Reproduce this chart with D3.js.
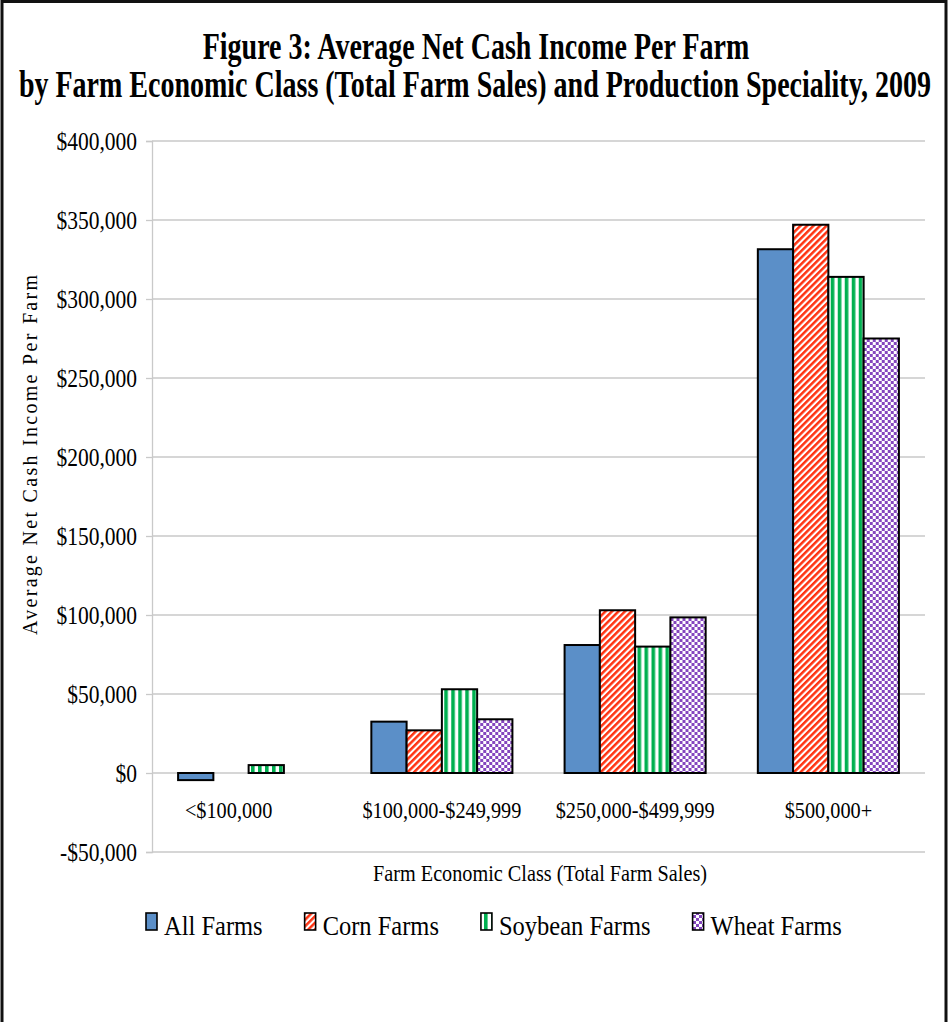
<!DOCTYPE html>
<html>
<head>
<meta charset="utf-8">
<script src="https://cdn.jsdelivr.net/npm/d3@7"></script>
<style>
  html, body { margin: 0; padding: 0; background: #fff; }
  svg { display: block; }
  text { font-family: "Liberation Serif", "Times New Roman", serif; fill: #000; }
</style>
</head>
<body>
<script>
// Farm economic classes (total farm sales)
const categories = ["<$100,000", "$100,000-$249,999", "$250,000-$499,999", "$500,000+"];
// Production specialities
const seriesNames = ["All Farms", "Corn Farms", "Soybean Farms", "Wheat Farms"];
// Average net cash income per farm, 2009 (dollars); null = not reported
const allFarms     = [-4500, 32500, 81000, 331500];
const cornFarms    = [null, 27000, 103000, 347000];
const soybeanFarms = [5000, 53000, 80000, 314000];
const wheatFarms   = [null, 34000, 98500, 275000];
const yTicks = [-50000, 0, 50000, 100000, 150000, 200000, 250000, 300000, 350000, 400000];

const seriesValues = [allFarms, cornFarms, soybeanFarms, wheatFarms];
const fills = ["#5B8FC8", "url(#corn)", "url(#soy)", "url(#wheat)"];

const W = 948, H = 1022;
const TALL = 1.13; // the serif lettering is set slightly tall and narrow
const svg = d3.select("body").append("svg").attr("width", W).attr("height", H);

// ---- fill patterns ----
const defs = svg.append("defs");
const corn = defs.append("pattern").attr("id", "corn").attr("patternUnits", "userSpaceOnUse")
  .attr("width", 4.6).attr("height", 10).attr("patternTransform", "rotate(45)");
corn.append("rect").attr("width", 4.6).attr("height", 10).attr("fill", "#fff");
corn.append("rect").attr("width", 2.5).attr("height", 10).attr("fill", "#FF3210");

const soy = defs.append("pattern").attr("id", "soy").attr("patternUnits", "userSpaceOnUse")
  .attr("width", 7).attr("height", 10).attr("x", 1);
soy.append("rect").attr("width", 7).attr("height", 10).attr("fill", "#fff");
soy.append("rect").attr("width", 3.6).attr("height", 10).attr("fill", "#00B050");

const wheat = defs.append("pattern").attr("id", "wheat").attr("patternUnits", "userSpaceOnUse")
  .attr("width", 6).attr("height", 6);
wheat.append("rect").attr("width", 6).attr("height", 6).attr("fill", "#fff");
wheat.append("rect").attr("width", 3).attr("height", 3).attr("fill", "#8446BE");
wheat.append("rect").attr("x", 3).attr("y", 3).attr("width", 3).attr("height", 3).attr("fill", "#8446BE");

// ---- outer frame ----
svg.append("rect").attr("x", 2).attr("y", 1.5).attr("width", W - 4).attr("height", H + 20)
  .attr("fill", "none").attr("stroke", "#111").attr("stroke-width", 3);

// ---- title (bold, condensed) ----
const titleLines = [
  { text: "Figure 3: Average Net Cash Income Per Farm", x: 476, y: 59 },
  { text: "by Farm Economic Class (Total Farm Sales) and Production Speciality, 2009", x: 475, y: 97 }
];
titleLines.forEach(l => {
  svg.append("text").attr("transform", `translate(${l.x},${l.y}) scale(0.757,1)`)
    .attr("text-anchor", "middle").attr("font-size", 37).attr("font-weight", "bold")
    .text(l.text);
});

// ---- scales ----
const plot = { left: 152, right: 925, top: 141, bottom: 852 };
const y = d3.scaleLinear().domain([-50000, 400000]).range([plot.bottom, plot.top]);
const x0 = d3.scaleBand().domain(categories).range([plot.left, plot.right]).padding(0);
const groupW = x0.bandwidth() * 0.73;
const x1 = d3.scaleBand().domain(seriesNames)
  .range([(x0.bandwidth() - groupW) / 2, (x0.bandwidth() + groupW) / 2]).padding(0);

// ---- gridlines ----
svg.append("g").selectAll("line").data(yTicks).join("line")
  .attr("x1", plot.left).attr("x2", plot.right)
  .attr("y1", d => y(d)).attr("y2", d => y(d))
  .attr("stroke", "#c9c9c9").attr("stroke-width", 1.3);

// ---- y axis ----
const yAxis = svg.append("g").attr("transform", `translate(${plot.left},0)`)
  .call(d3.axisLeft(y).tickValues(yTicks).tickSize(6).tickPadding(9)
    .tickFormat(d => (d < 0 ? "-$" : "$") + d3.format(",")(Math.abs(d))));
yAxis.select(".domain").attr("stroke", "#c9c9c9").attr("stroke-width", 1.3);
yAxis.selectAll(".tick line").attr("stroke", "#c9c9c9").attr("stroke-width", 1.3);
yAxis.selectAll(".tick text").attr("font-family", "Liberation Serif, serif")
  .attr("font-size", 21.5).attr("fill", "#000").attr("dy", "0.33em")
  .attr("transform", `scale(1,${TALL})`);

// ---- bars ----
const groups = svg.append("g").selectAll("g").data(categories).join("g")
  .attr("transform", d => `translate(${x0(d)},0)`);
groups.selectAll("rect")
  .data((c, ci) => seriesNames.map((s, si) => ({ s, si, v: seriesValues[si][ci] })).filter(d => d.v !== null))
  .join("rect")
  .attr("x", d => x1(d.s))
  .attr("width", x1.bandwidth())
  .attr("y", d => y(Math.max(0, d.v)))
  .attr("height", d => Math.abs(y(d.v) - y(0)))
  .attr("fill", d => fills[d.si])
  .attr("stroke", "#000").attr("stroke-width", 2);

// ---- category labels ----
svg.append("g").selectAll("text").data(categories).join("text")
  .attr("transform", (d, i) => `translate(${x0(d) + x0.bandwidth() / 2 - (i === 0 ? 20 : 0)},818) scale(1,${TALL})`)
  .attr("text-anchor", "middle").attr("font-size", 20.3)
  .text(d => d);

// ---- axis titles ----
svg.append("text").attr("transform", `translate(540,881) scale(1,${TALL})`).attr("text-anchor", "middle")
  .attr("font-size", 20).attr("textLength", 334).attr("lengthAdjust", "spacingAndGlyphs")
  .text("Farm Economic Class (Total Farm Sales)");
svg.append("text").attr("transform", "translate(37,455) rotate(-90)").attr("text-anchor", "middle")
  .attr("font-size", 20).attr("textLength", 360).attr("lengthAdjust", "spacing")
  .text("Average Net Cash Income Per Farm");

// ---- legend ----
const legend = svg.append("g");
let lx = 146;
seriesNames.forEach((name, i) => {
  legend.append("rect").attr("x", lx).attr("y", 913).attr("width", 11).attr("height", 17)
    .attr("fill", fills[i]).attr("stroke", "#000").attr("stroke-width", 1.6);
  const t = legend.append("text").attr("transform", `translate(${lx + 18},935) scale(1,${TALL})`)
    .attr("font-size", 24.5).text(name);
  lx += 18 + t.node().getComputedTextLength() + 42;
});
</script>
</body>
</html>
